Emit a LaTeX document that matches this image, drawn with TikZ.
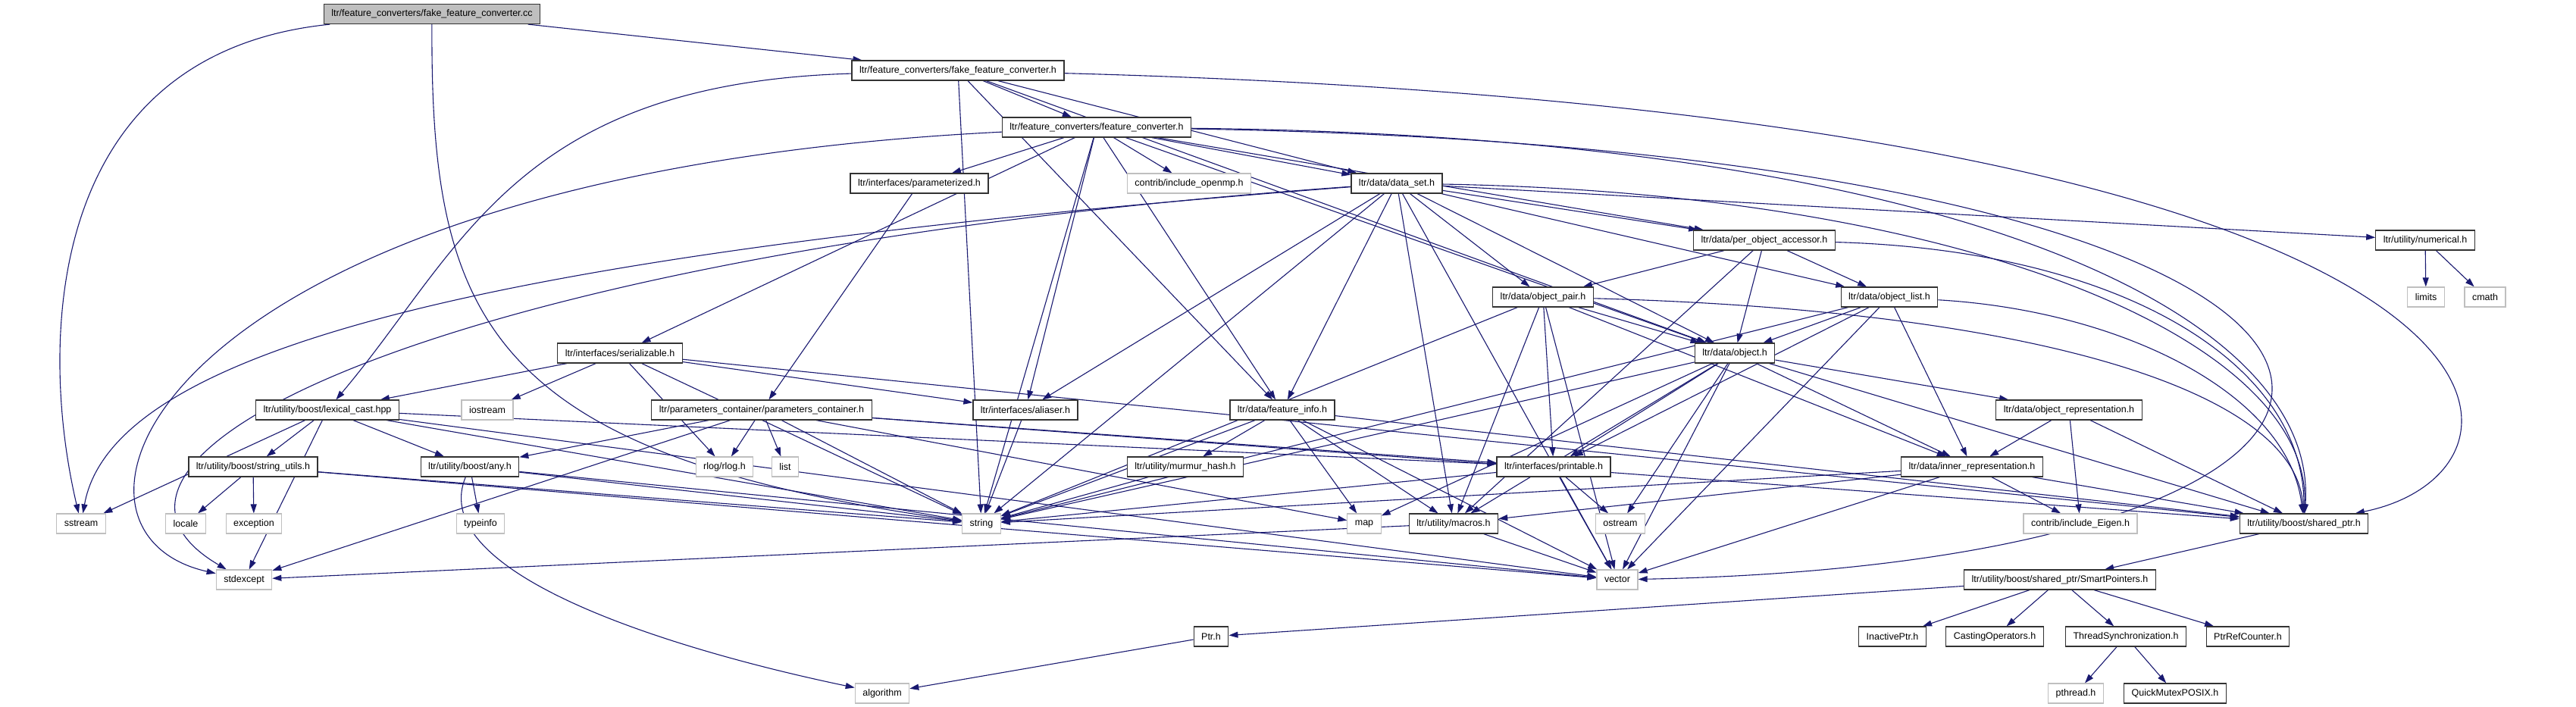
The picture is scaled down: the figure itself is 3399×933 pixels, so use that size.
\documentclass[tikz,border=0pt]{standalone}
\usepackage{fontspec}
\setmainfont{Liberation Sans}
\usetikzlibrary{arrows.meta,backgrounds}
\definecolor{EdgeClr}{rgb}{0.098,0.098,0.439}
\definecolor{SysClr}{rgb}{0.75,0.75,0.75}
\definecolor{TopClr}{rgb}{0.75,0.75,0.75}

\begin{document}
\begin{tikzpicture}[x=1pt,y=-1pt,
  file/.style={draw=black!80,line width=1.2pt,fill=white,inner xsep=10pt,inner ysep=0pt,minimum height=26pt,font=\fontsize{12.5}{14}\selectfont},
  sys/.style={file,draw=SysClr},
  main/.style={file,fill=TopClr},
  dep/.style={draw=EdgeClr,line width=1.1pt,-{Triangle[length=12pt,width=8pt]}}]
\useasboundingbox (0,0) rectangle (3399,933);

\node[main] (root) at (570,18.5) {ltr/feature\_converters/fake\_feature\_converter.cc};
\node[file] (ffch) at (1264,93) {ltr/feature\_converters/fake\_feature\_converter.h};
\node[file] (fch) at (1447,168) {ltr/feature\_converters/feature\_converter.h};
\node[file] (param) at (1213,242) {ltr/interfaces/parameterized.h};
\node[sys] (openmp) at (1569,242) {contrib/include\_openmp.h};
\node[file] (dataset) at (1843,242) {ltr/data/data\_set.h};
\node[file] (poa) at (2328,317) {ltr/data/per\_object\_accessor.h};
\node[file] (numerical) at (3200,317) {ltr/utility/numerical.h};
\node[file] (opair) at (2036,392) {ltr/data/object\_pair.h};
\node[file] (olist) at (2493,392) {ltr/data/object\_list.h};
\node[sys] (limits) at (3201,392) {limits};
\node[sys] (cmath) at (3279,392) {cmath};
\node[file] (object) at (2289,466) {ltr/data/object.h};
\node[file] (serial) at (818,466) {ltr/interfaces/serializable.h};
\node[file] (lexcast) at (432,541) {ltr/utility/boost/lexical\_cast.hpp};
\node[sys] (iostream) at (643,541) {iostream};
\node[file] (pcont) at (1005,541) {ltr/parameters\_container/parameters\_container.h};
\node[file] (aliaser) at (1353,541) {ltr/interfaces/aliaser.h};
\node[file] (finfo) at (1692,541) {ltr/data/feature\_info.h};
\node[file] (objrep) at (2730,541) {ltr/data/object\_representation.h};
\node[file] (strutils) at (334,616) {ltr/utility/boost/string\_utils.h};
\node[file] (any) at (620,616) {ltr/utility/boost/any.h};
\node[sys] (rlog) at (956,616) {rlog/rlog.h};
\node[sys] (list) at (1036,616) {list};
\node[file] (murmur) at (1564,616) {ltr/utility/murmur\_hash.h};
\node[file] (printable) at (2050,616) {ltr/interfaces/printable.h};
\node[file] (innerrep) at (2602,616) {ltr/data/inner\_representation.h};
\node[sys] (sstream) at (107,691) {sstream};
\node[sys] (locale) at (245,691) {locale};
\node[sys] (exception) at (335,691) {exception};
\node[sys] (typeinfo) at (634,691) {typeinfo};
\node[sys] (string) at (1295,691) {string};
\node[sys] (map) at (1800,691) {map};
\node[file] (macros) at (1918,691) {ltr/utility/macros.h};
\node[sys] (ostream) at (2138,691) {ostream};
\node[sys] (eigen) at (2745,691) {contrib/include\_Eigen.h};
\node[file] (sharedptr) at (3040,691) {ltr/utility/boost/shared\_ptr.h};
\node[sys] (stdexcept) at (322,765) {stdexcept};
\node[sys] (vector) at (2134,765) {vector};
\node[file] (smartptr) at (2718,765) {ltr/utility/boost/shared\_ptr/SmartPointers.h};
\node[file] (ptr) at (1598,840) {Ptr.h};
\node[file] (inactive) at (2497,840) {InactivePtr.h};
\node[file] (casting) at (2632,840) {CastingOperators.h};
\node[file] (thread) at (2805,840) {ThreadSynchronization.h};
\node[file] (refcount) at (2966,840) {PtrRefCounter.h};
\node[sys] (algorithm) at (1164,915) {algorithm};
\node[sys] (pthread) at (2739,915) {pthread.h};
\node[file] (quickmutex) at (2870,915) {QuickMutexPOSIX.h};

\begin{scope}[on background layer]
\foreach \a/\b in {root/ffch, ffch/fch, ffch/string, ffch/finfo, ffch/dataset, ffch/object,
  fch/serial, fch/param, fch/openmp, fch/string, fch/aliaser, fch/finfo, fch/dataset, fch/poa, fch/object,
  param/pcont,
  dataset/numerical, dataset/poa, dataset/opair, dataset/olist, dataset/object, dataset/finfo, dataset/aliaser,
  dataset/macros, dataset/string, dataset/vector,
  numerical/limits, numerical/cmath,
  poa/opair, poa/olist, poa/object, poa/macros,
  opair/object, opair/printable, opair/macros, opair/string, opair/vector, opair/innerrep,
  olist/object, olist/printable, olist/innerrep, olist/string, olist/vector,
  object/printable, object/objrep, object/innerrep, object/string, object/map, object/ostream, object/vector,
  object/macros, object/sharedptr,
  serial/lexcast, serial/iostream, serial/rlog, serial/string, serial/aliaser, serial/sharedptr,
  lexcast/strutils, lexcast/any, lexcast/sstream, lexcast/stdexcept, lexcast/string, lexcast/printable, lexcast/vector,
  strutils/locale, strutils/exception, strutils/string, strutils/vector,
  any/typeinfo, any/string, any/vector,
  pcont/any, pcont/rlog, pcont/list, pcont/string, pcont/map, pcont/printable, pcont/sharedptr, pcont/stdexcept,
  aliaser/string,
  finfo/murmur, finfo/string, finfo/map, finfo/macros, finfo/vector, finfo/sharedptr,
  murmur/string,
  printable/ostream, printable/vector, printable/string,
  innerrep/eigen, innerrep/sharedptr, innerrep/macros, innerrep/vector, innerrep/string,
  objrep/innerrep, objrep/eigen, objrep/sharedptr,
  macros/vector, macros/stdexcept,
  sharedptr/smartptr,
  smartptr/inactive, smartptr/casting, smartptr/thread, smartptr/refcount, smartptr/ptr,
  thread/pthread, thread/quickmutex,
  ptr/algorithm}
  \draw[dep] (\a) -- (\b);

% edges that swing down into shared_ptr.h from the upper right
\draw[dep] (fch) .. controls (2600,180) and (3060,420) .. (sharedptr);
\draw[dep] (dataset) .. controls (2600,255) and (3050,450) .. (sharedptr);
\draw[dep] (poa) .. controls (2800,330) and (3040,480) .. (sharedptr);
\draw[dep] (opair) .. controls (2700,410) and (3030,520) .. (sharedptr);
\draw[dep] (olist) .. controls (2800,410) and (3020,520) .. (sharedptr);

% long bends round the sides
\draw[dep] (root) .. controls (60,70) and (50,450) .. (sstream);
\draw[dep] (root) .. controls (568,420) and (640,600) .. (string);
\draw[dep] (ffch) .. controls (680,110) and (610,330) .. (lexcast);
\draw[dep] (ffch) .. controls (3394,150) and (3394,620) .. (sharedptr);
\draw[dep] (fch) .. controls (200,230) and (30,700) .. (stdexcept);
\draw[dep] (dataset) .. controls (600,330) and (40,600) .. (stdexcept);
\draw[dep] (dataset) .. controls (700,330) and (150,450) .. (sstream);
\draw[dep] (any) .. controls (560,760) and (900,860) .. (algorithm);
\draw[dep] (fch) .. controls (3355,200) and (3360,740) .. (vector);
\end{scope}
\end{tikzpicture}
\end{document}
